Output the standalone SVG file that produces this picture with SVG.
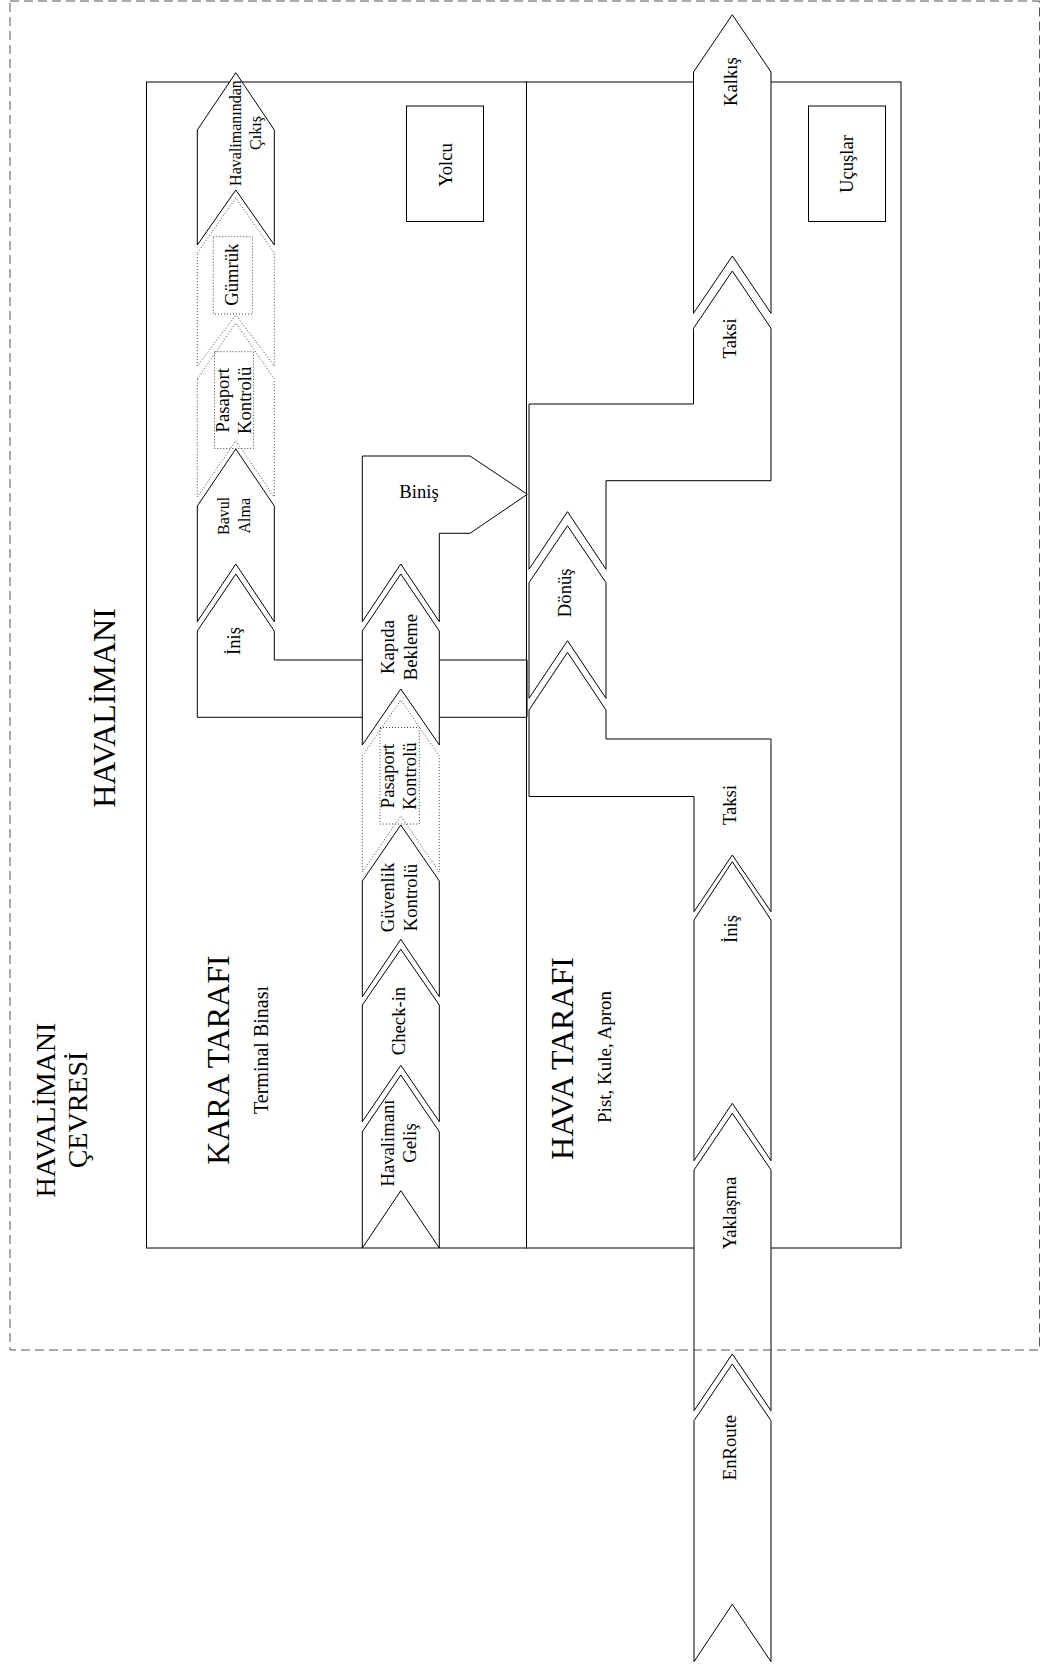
<svg xmlns="http://www.w3.org/2000/svg" width="1045" height="1666" viewBox="0 0 1045 1666">
<style>
.region{fill:none;stroke:#000;stroke-width:1}
.step{fill:#fff;stroke:#000;stroke-width:1}
.opt{fill:#fff;stroke:#444;stroke-width:1;stroke-dasharray:1 2}
.optbox{fill:none;stroke:#444;stroke-width:1;stroke-dasharray:1 2}
.band{fill:none;stroke:#000;stroke-width:1}
.boundary{fill:none;stroke:#555;stroke-width:1;stroke-dasharray:9 5}
text{font-family:"Liberation Serif","Times New Roman",serif;fill:#000;text-anchor:middle}
.lbl{font-size:18.67px}
.small{font-size:16px}
.title{font-size:32px}
.sub{font-size:20px}
.outer{font-size:28px}
</style>
<rect width="1045" height="1666" fill="#fff"/>

<g id="kara-tarafi">
  <rect class="region" x="146.5" y="82" width="380" height="1166"/>
  <text class="title" transform="translate(229,1060) rotate(-90)">KARA TARAFI</text>
  <text class="sub" transform="translate(268,1050) rotate(-90)">Terminal Binası</text>
</g>
<g id="hava-tarafi">
  <rect class="region" x="526.5" y="82" width="374.5" height="1166"/>
  <text class="title" transform="translate(572.5,1058.5) rotate(-90)">HAVA TARAFI</text>
  <text class="sub" style="font-size:19px" transform="translate(611,1057) rotate(-90)">Pist, Kule, Apron</text>
</g>
<g id="havalimani-label">
  <text class="title" transform="translate(115,708) rotate(-90)">HAVALİMANI</text>
</g>

<g id="yolcu">
  <rect class="region" x="406.5" y="106" width="77" height="115.5"/>
  <text class="lbl" transform="translate(451.5,165) rotate(-90)">Yolcu</text>
</g>
<g id="ucuslar">
  <rect class="region" x="808.5" y="106" width="77" height="115.5"/>
  <text class="lbl" transform="translate(852.5,164) rotate(-90)">Uçuşlar</text>
</g>

<!-- passenger departure column -->
<g id="havalimani-gelis">
  <polygon class="step" points="362.3,1131.7 400.8,1075 439.3,1131.7 439.3,1248 400.8,1190.7 362.3,1248"/>
  <text class="lbl" transform="translate(394,1143) rotate(-90)"><tspan x="0" y="0">Havalimanı</tspan><tspan x="0" y="22">Geliş</tspan></text>
</g>
<g id="check-in">
  <polygon class="step" points="362.3,1005 400.8,949.3 439.3,1005 439.3,1121.7 400.8,1065.3 362.3,1121.7"/>
  <text class="lbl" transform="translate(404.7,1021) rotate(-90)">Check-in</text>
</g>
<g id="guvenlik-kontrolu">
  <polygon class="step" points="362.3,881 400.8,825 439.3,881 439.3,996.7 400.8,939.3 362.3,996.7"/>
  <text class="lbl" transform="translate(393.5,897.5) rotate(-90)"><tspan x="0" y="0">Güvenlik</tspan><tspan x="0" y="23">Kontrolü</tspan></text>
</g>
<g id="pasaport-kontrolu-gidis">
  <polygon class="opt" points="362.3,756 400.8,700 439.3,756 439.3,872 400.8,816 362.3,872"/>
  <rect class="optbox" x="380" y="727.5" width="39.3" height="96.5"/>
  <text class="lbl" transform="translate(394,776) rotate(-90)"><tspan x="0" y="0">Pasaport</tspan><tspan x="0" y="22">Kontrolü</tspan></text>
</g>

<!-- arrival band (Inis) drawn under Kapida Bekleme -->
<g id="inis-yolcu">
  <path class="band" d="M274.3,631 L235.8,574 L197.3,631 L197.3,717.3 L362.3,717.3 M274.3,631 L274.3,660 L362.3,660 M439.3,660 L527,660 L527,717.3 L439.3,717.3"/>
  <text class="lbl" transform="translate(240,641) rotate(-90)">İniş</text>
</g>

<g id="kapida-bekleme">
  <polygon class="step" points="362.3,631 400.8,574 439.3,631 439.3,745 400.8,689 362.3,745"/>
  <text class="lbl" transform="translate(393.5,647) rotate(-90)"><tspan x="0" y="0">Kapıda</tspan><tspan x="0" y="23">Bekleme</tspan></text>
</g>
<g id="binis">
  <polygon class="step" points="362.3,456 470,456 527.3,494.3 470,533.3 439.3,533.3 439.3,621.7 400.8,564 362.3,621.7"/>
  <text class="lbl" x="419" y="498.4">Biniş</text>
</g>

<!-- passenger arrival column -->
<g id="bavul-alma">
  <polygon class="step" points="197.3,506 235.8,449 274.3,506 274.3,621.7 235.8,564 197.3,621.7"/>
  <text class="small" transform="translate(229,515.8) rotate(-90)"><tspan x="0" y="0">Bavul</tspan><tspan x="0" y="21">Alma</tspan></text>
</g>
<g id="pasaport-kontrolu-gelis">
  <polygon class="opt" points="197.3,379 235.8,323 274.3,379 274.3,497 235.8,440.7 197.3,497"/>
  <rect class="optbox" x="214.5" y="351.7" width="39" height="96.8"/>
  <text class="lbl" transform="translate(228.5,400.3) rotate(-90)"><tspan x="0" y="0">Pasaport</tspan><tspan x="0" y="22.3">Kontrolü</tspan></text>
</g>
<g id="gumruk">
  <polygon class="opt" points="197.3,253 235.8,198 274.3,253 274.3,366 235.8,315 197.3,366"/>
  <rect class="optbox" x="213.3" y="236.7" width="39.2" height="77.3"/>
  <text class="lbl" transform="translate(238.4,274.7) rotate(-90)">Gümrük</text>
</g>
<g id="havalimanindan-cikis">
  <polygon class="step" points="197.3,130 235.8,72.7 274.3,130 274.3,245 235.8,190 197.3,245"/>
  <text class="small" transform="translate(240.6,133) rotate(-90)"><tspan x="0" y="0">Havalimanından</tspan><tspan x="0" y="20">Çıkış</tspan></text>
</g>

<!-- aircraft flow -->
<g id="enroute">
  <polygon class="step" points="694,1420.7 732.3,1364 771,1420.7 771,1661.7 732.3,1604.3 694,1661.7"/>
  <text class="lbl" transform="translate(736.4,1447.5) rotate(-90)">EnRoute</text>
</g>
<g id="yaklasma">
  <polygon class="step" points="694,1170 732.3,1113.3 771,1170 771,1410.7 732.3,1354 694,1410.7"/>
  <text class="lbl" transform="translate(735.7,1213) rotate(-90)">Yaklaşma</text>
</g>
<g id="inis-ucak">
  <polygon class="step" points="694,920 732.3,861.7 771,920 771,1160.7 732.3,1103.3 694,1160.7"/>
  <text class="lbl" transform="translate(737,929) rotate(-90)">İniş</text>
</g>
<g id="taksi-gelis">
  <polygon class="step" points="529,710 567.5,652.3 606,710 606,739 771,739 771,911.7 732.3,855 694,911.7 694,796.5 529,796.5"/>
  <text class="lbl" transform="translate(736.4,805) rotate(-90)">Taksi</text>
</g>
<g id="donus">
  <polygon class="step" points="529,582.7 567.5,525.7 606,582.7 606,698.3 567.5,640.7 529,698.3"/>
  <text class="lbl" transform="translate(570.7,592.8) rotate(-90)">Dönüş</text>
</g>
<g id="taksi-gidis">
  <polygon class="step" points="529,569.3 567.5,511.7 606,569.3 606,480.7 771,480.7 771,328.3 732.3,271 693.5,328.3 693.5,404 529,404"/>
  <text class="lbl" transform="translate(736.4,338.3) rotate(-90)">Taksi</text>
</g>
<g id="kalkis">
  <polygon class="step" points="693.5,72 732.3,14.7 771,72 771,313.3 732.3,256 693.5,313.3"/>
  <text class="lbl" transform="translate(736.7,81.7) rotate(-90)">Kalkış</text>
</g>

<g id="connectors"></g>

<g id="havalimani-cevresi">
  <rect class="boundary" x="10" y="1" width="1029.5" height="1349"/>
  <text class="outer" transform="translate(55,1110) rotate(-90)"><tspan x="0" y="0">HAVALİMANI</tspan><tspan x="0" y="31.5">ÇEVRESİ</tspan></text>
</g>
</svg>
